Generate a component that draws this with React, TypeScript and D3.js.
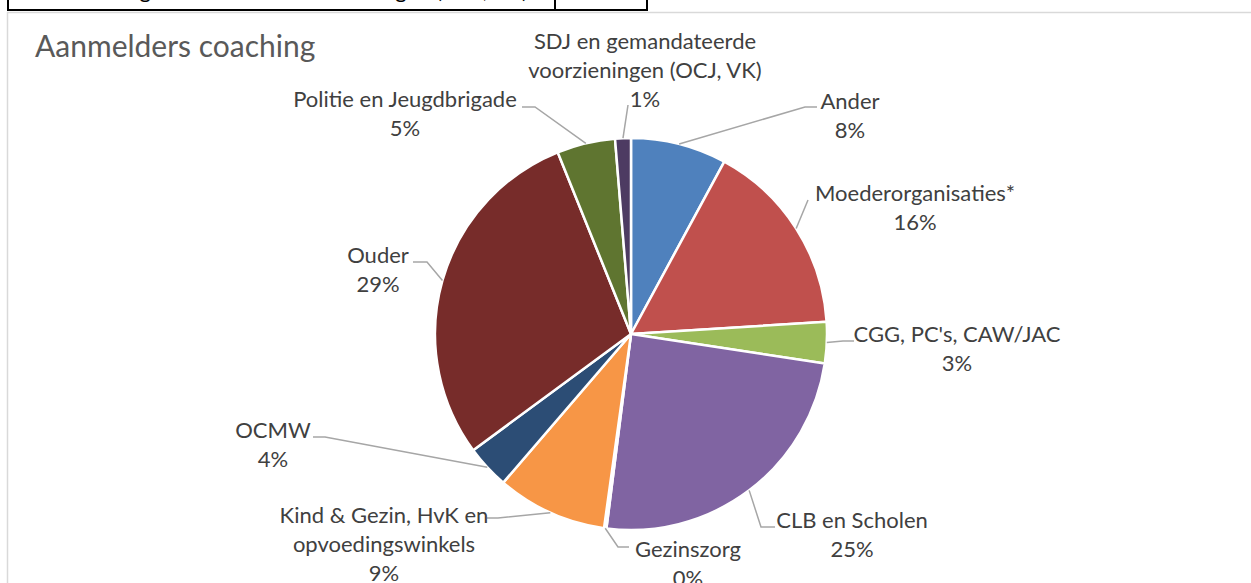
import React from "react";
import * as d3 from "d3";

// chart data (clockwise from 12 o'clock)
const categories = [
  "Ander",
  "Moederorganisaties*",
  "CGG, PC's, CAW/JAC",
  "CLB en Scholen",
  "Gezinszorg",
  "Kind & Gezin, HvK en opvoedingswinkels",
  "OCMW",
  "Ouder",
  "Politie en Jeugdbrigade",
  "SDJ en gemandateerde voorzieningen (OCJ, VK)",
];
const values = [7.9, 16.1, 3.4, 24.6, 0.2, 9.1, 3.6, 29.0, 4.8, 1.3];
const percentLabels = ["8%", "16%", "3%", "25%", "0%", "9%", "4%", "29%", "5%", "1%"];
const labelLines = [
  ["Ander"],
  ["Moederorganisaties*"],
  ["CGG, PC's, CAW/JAC"],
  ["CLB en Scholen"],
  ["Gezinszorg"],
  ["Kind & Gezin, HvK en", "opvoedingswinkels"],
  ["OCMW"],
  ["Ouder"],
  ["Politie en Jeugdbrigade"],
  ["SDJ en gemandateerde", "voorzieningen (OCJ, VK)"],
];
const colors = [
  "#4F81BD", "#C0504D", "#9BBB59", "#8064A2", "#4BACC6",
  "#F79646", "#2C4D75", "#772C2A", "#5F7530", "#4D3B62",
];

// label placement: text centre / first baseline, leader attach point, elbow offset
const labelLayout = [
  { x: 850, y: 109, ax: 817, ay: 107, elbow: -12 },
  { x: 915, y: 201, ax: 808, ay: 200, elbow: 0 },
  { x: 957, y: 342, ax: 854, ay: 341, elbow: -11 },
  { x: 852, y: 528, ax: 775, ay: 527, elbow: -14 },
  { x: 688, y: 557, ax: 629, ay: 547, elbow: -11 },
  { x: 384, y: 523, ax: 487, ay: 518, elbow: 11 },
  { x: 273, y: 438, ax: 313, ay: 437, elbow: 12 },
  { x: 378, y: 263, ax: 413, ay: 262, elbow: 14 },
  { x: 405, y: 107, ax: 522, ay: 107, elbow: 13 },
  { x: 645, y: 49, ax: 628, ay: 105, elbow: 0 },
];

const W = 1251;
const H = 583;
const cx = 631;
const cy = 334;
const R = 196;
const lineH = 29;
const font = "Lato, 'Open Sans', sans-serif";

export default function App() {
  const pie = d3.pie<number>().sort(null).value((d) => d)(values);
  const arc = d3.arc<d3.PieArcDatum<number>>().innerRadius(0).outerRadius(R);

  return (
    <svg
      width={W}
      height={H}
      style={{ position: "absolute", left: 0, top: 0, background: "#fff" }}
    >
      {/* table edge above the chart, only its last row bottom is in view */}
      <g>
        <text
          x={528}
          y={-2}
          textAnchor="end"
          fontFamily={font}
          fontSize={22}
          fill="#000"
        >
          SDJ en gemandateerde voorzieningen (OCJ, VK)
        </text>
        <path d="M8,0 V10 H647 V0 M555,0 V10" fill="none" stroke="#000" strokeWidth={2} />
      </g>

      {/* chart frame */}
      <path d={`M7.5,${H} V12.5 H${W}`} fill="none" stroke="#D9D9D9" strokeWidth={1.5} />

      <text x={35} y={57} fontFamily={font} fontSize={30} fill="#595959">
        Aanmelders coaching
      </text>

      <g transform={`translate(${cx},${cy})`}>
        {pie.map((d, i) => (
          <path
            key={categories[i]}
            d={arc(d) || ""}
            fill={colors[i]}
            stroke="#fff"
            strokeWidth={2.5}
            strokeLinejoin="round"
          />
        ))}
      </g>

      {/* leader lines */}
      <g fill="none" stroke="#A6A6A6" strokeWidth={1.5}>
        {pie.map((d, i) => {
          const a = (d.startAngle + d.endAngle) / 2;
          const px = cx + R * Math.sin(a);
          const py = cy - R * Math.cos(a);
          const L = labelLayout[i];
          const pts: [number, number][] = [[px, py]];
          if (L.elbow !== 0) pts.push([L.ax + L.elbow, L.ay]);
          pts.push([L.ax, L.ay]);
          return <path key={i} d={d3.line()(pts) || ""} />;
        })}
      </g>

      {/* data labels */}
      <g fontFamily={font} fontSize={22} fill="#404040" textAnchor="middle">
        {labelLines.map((lines, i) => {
          const L = labelLayout[i];
          return (
            <text key={i} x={L.x} y={L.y}>
              {lines.map((t, j) => (
                <tspan key={j} x={L.x} y={L.y + j * lineH}>
                  {t}
                </tspan>
              ))}
              <tspan x={L.x} y={L.y + lines.length * lineH}>
                {percentLabels[i]}
              </tspan>
            </text>
          );
        })}
      </g>
    </svg>
  );
}
